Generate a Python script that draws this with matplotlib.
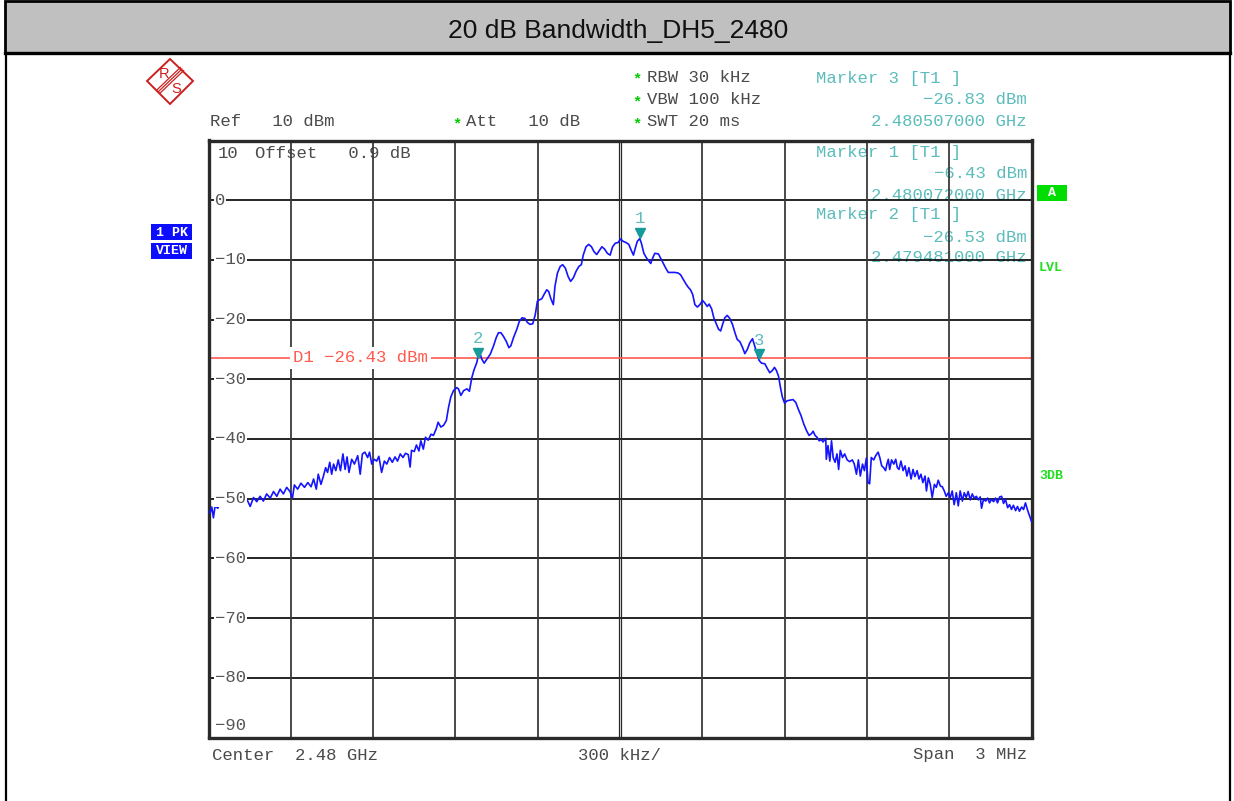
import matplotlib
matplotlib.use("Agg")
import matplotlib.pyplot as plt
from matplotlib.patches import Rectangle, Polygon
from matplotlib.transforms import offset_copy

W, H = 1234, 801
MONO = ["Liberation Mono", "DejaVu Sans Mono"]

# ---- trace: offset from centre (kHz), level (dBm)
freq_khz = [
    -1500, -1494, -1488, -1482, -1476, -1466, -1458, -1445, -1433, -1421,
    -1409, -1397, -1385, -1373, -1360, -1348, -1336, -1324, -1312, -1300,
    -1288, -1275, -1263, -1251, -1239, -1227, -1215, -1203, -1194, -1187,
    -1175, -1163, -1150, -1138, -1126, -1117, -1107, -1100, -1090, -1081,
    -1073, -1066, -1058, -1051, -1044, -1036, -1027, -1019, -1010, -1002,
    -995, -988, -978, -968, -956, -947, -939, -930, -920, -913,
    -905, -896, -887, -879, -869, -859, -850, -840, -830, -820,
    -811, -801, -791, -782, -772, -765, -760, -750, -742, -733,
    -726, -717, -709, -699, -689, -680, -670, -663,
    -653, -643, -633, -625, -617, -607, -595, -589, -580, -570,
    -558, -549, -540, -532, -522, -519, -512, -504, -495, -485,
    -473, -461, -451, -443, -434, -425, -415, -405, -398, -388,
    -376, -367, -357, -347, -337, -328, -318, -309, -301, -294,
    -285, -277, -267, -260, -252, -243, -237, -228, -218, -209,
    -199, -189, -180, -170, -160, -150, -141, -134, -124, -114,
    -104, -95, -85, -75, -66, -56, -46, -36, -27, -17,
    -7, 2, 12, 22, 32, 41, 49, 56, 63, 72,
    78, 87, 97, 107,
    112, 119, 127, 140, 148, 158, 167, 176, 188, 200,
    212, 221, 231, 240, 249, 257, 265, 273, 282, 291,
    301, 309, 318, 325, 334, 342, 352, 359, 367, 374,
    382, 391, 400, 410, 419, 427, 437, 447, 455, 464,
    473, 483, 490, 498, 507, 516, 528, 536, 546, 556,
    563, 570, 578, 585, 592, 600, 609, 619, 631, 641,
    650, 660, 670, 680, 689, 698, 704, 711, 718, 726,
    734, 740, 750,
    752, 758, 765, 771, 777, 784, 791, 797, 803, 811,
    819, 828, 837, 847, 854, 862, 869, 876, 884, 891,
    898, 904, 910, 916, 925, 932, 941, 947, 954, 961,
    968, 973, 978, 983, 990, 998, 1005, 1011, 1017, 1024,
    1032, 1039, 1046, 1053, 1061, 1068, 1075, 1083, 1090, 1097,
    1104, 1112, 1117, 1124, 1131, 1138, 1146, 1153, 1160, 1168,
    1175, 1182, 1189, 1197, 1204, 1211, 1218, 1226, 1233, 1240,
    1248, 1255, 1262, 1269, 1277, 1284, 1291, 1299, 1306, 1313,
    1318, 1325, 1333, 1340, 1347, 1354, 1362, 1369, 1376, 1384,
    1391, 1398, 1405, 1413, 1420, 1427, 1434, 1442, 1449, 1456,
    1464, 1471, 1478, 1485, 1490, 1500,
]
level_dbm = [
    -52.0, -52.4, -51.4, -53.2, -51.2, -51.6, -50.8, -51.2, -50.3, -51.0,
    -50.3, -50.8, -50.4, -51.2, -50.1, -51.3, -49.8, -50.5, -49.6, -50.4,
    -49.2, -49.9, -48.8, -49.6, -48.4, -49.2, -48.1, -48.8, -49.9, -47.7,
    -48.4, -47.4, -48.1, -47.3, -48.0, -46.7, -48.4, -45.9, -47.6, -46.2,
    -44.8, -45.6, -43.9, -45.9, -44.2, -45.3, -43.5, -45.3, -42.5, -45.1,
    -43.0, -45.6, -43.4, -44.2, -42.8, -45.9, -42.5, -42.2, -43.1, -42.2,
    -44.2, -43.4, -43.7, -42.9, -45.6, -43.7, -44.2, -43.1, -43.9, -43.0,
    -43.7, -42.5, -43.1, -42.4, -42.6, -44.7, -41.9, -42.1, -41.0, -42.0,
    -40.3, -41.7, -39.7, -40.2, -39.2, -39.4, -38.3, -37.2,
    -38.0, -37.7, -36.9, -34.7, -33.0, -31.9, -31.4, -31.6, -32.7, -31.9,
    -31.6, -32.0, -29.7, -28.4, -27.2, -26.53, -25.4, -26.6, -27.3, -26.6,
    -25.8, -24.4, -23.0, -22.2, -22.2, -22.8, -23.6, -24.7, -24.4, -23.0,
    -21.6, -20.3, -19.7, -19.8, -20.5, -20.8, -20.7, -19.2, -16.9, -16.7,
    -16.5, -15.8, -15.0, -15.3, -16.5, -17.5, -14.4, -12.2, -11.1, -10.8,
    -11.4, -12.8, -13.6, -13.0, -11.9, -11.1, -10.8, -9.2, -7.8, -7.4,
    -7.8, -8.6, -9.1, -8.4, -7.8, -8.2, -8.9, -9.2, -7.8, -7.2,
    -7.1, -6.5, -6.9, -7.1, -7.4, -8.4, -9.2, -8.0, -6.9, -6.43,
    -7.2, -8.9, -9.7, -10.3,
    -10.6, -9.7, -8.9, -9.0, -9.7, -10.6, -11.4, -12.1, -12.1, -12.1,
    -12.2, -12.5, -13.3, -14.0, -14.6, -15.0, -15.8, -17.5, -17.9, -17.5,
    -16.8, -17.2, -17.8, -17.4, -18.2, -19.7, -20.8, -21.6, -21.9, -20.8,
    -19.7, -19.3, -19.8, -20.8, -22.2, -23.3, -23.7, -24.7, -25.7, -25.0,
    -23.9, -23.2, -24.3, -25.5, -26.83, -27.3, -27.4, -28.1, -28.9, -28.5,
    -28.0, -28.5, -29.5, -31.4, -33.0, -34.0, -33.6, -33.5, -33.4, -33.9,
    -35.0, -36.1, -37.5, -38.6, -39.4, -39.1, -38.7, -39.4, -39.7, -40.3,
    -40.1, -40.5, -39.9,
    -43.4, -41.1, -43.7, -40.3, -43.1, -43.9, -42.5, -45.1, -41.9, -43.1,
    -42.5, -43.5, -43.8, -43.5, -44.2, -45.9, -43.5, -46.2, -44.2, -45.3,
    -43.2, -47.3, -47.5, -43.1, -43.5, -42.8, -42.2, -43.1, -44.5, -44.8,
    -45.3, -44.2, -43.4, -45.1, -43.5, -44.2, -43.4, -44.8, -45.1, -43.7,
    -45.3, -44.5, -46.2, -44.8, -46.7, -45.1, -46.3, -45.3, -46.7, -45.9,
    -47.3, -46.2, -48.7, -46.5, -47.6, -49.8, -47.6, -48.1, -46.9, -47.9,
    -48.0, -48.7, -49.6, -49.0, -49.8, -48.7, -51.0, -49.0, -51.2, -48.7,
    -50.4, -49.0, -49.8, -48.8, -50.2, -49.2, -49.9, -49.6, -50.2, -49.7,
    -51.6, -50.1, -50.4, -49.9, -50.7, -50.1, -50.5, -49.9, -50.7, -49.7,
    -49.6, -50.8, -50.1, -51.5, -51.0, -51.8, -51.1, -52.0, -51.3, -52.1,
    -51.4, -51.8, -50.7, -51.8, -52.5, -53.8,
]

center_ghz = 2.48
span_khz = 3000
div_khz = 300
ref_dbm = 10
bottom_dbm = -90
grid_dbm = [0, -10, -20, -30, -40, -50, -60, -70, -80]

marker_ids = [1, 2, 3]
marker_ghz = [2.480072, 2.479481, 2.480507]
marker_dbm = [-6.43, -26.53, -26.83]
d1_dbm = -26.43

title = "20 dB Bandwidth_DH5_2480"

fig = plt.figure(figsize=(W / 100, H / 100), dpi=100)

# pixel-coordinate background layer for the frame and screen annotations
bg = fig.add_axes([0, 0, 1, 1])
bg.set_xlim(0, W)
bg.set_ylim(H, 0)
bg.axis("off")

bg.add_patch(Rectangle((5, 1), 1225, 52, facecolor="#c0c0c0", edgecolor="black", lw=2))
bg.plot([5, 1230], [53, 53], color="black", lw=2.4)
bg.plot([6, 6], [53, H], color="black", lw=1.6)
bg.plot([1230, 1230], [53, H], color="black", lw=1.6)
bg.text(618, 31, title, ha="center", va="center", fontsize=19,
        family=["Liberation Sans", "DejaVu Sans"], color="#111111")

# R&S logo
red = "#cc2020"
bg.add_patch(Polygon([(147, 81), (170, 59), (193, 81), (170, 104)], closed=True,
                     fill=False, edgecolor=red, lw=1.4))
for d in (-1.6, 0, 1.6):
    bg.plot([158 + d, 182 + d], [92 + d, 69 + d], color=red, lw=0.9)
bg.text(164, 74, "R", color=red, fontsize=10.5, ha="center", va="center",
        family=["Liberation Sans"])
bg.text(176, 89, "S", color=red, fontsize=10.5, ha="center", va="center",
        family=["Liberation Sans"])

gray = "#4a4a4a"
teal = "#5cbcbc"
green = "#00cc00"
fs = 12.4


def mono(x, y, s, color=gray, ha="left", **kw):
    bg.text(x, y, s, color=color, ha=ha, va="center", fontsize=fs, family=MONO, **kw)


mono(210, 122, "Ref   10 dBm")
mono(466, 122, "Att   10 dB")
mono(647, 77, "RBW 30 kHz")
mono(647, 100, "VBW 100 kHz")
mono(647, 122, "SWT 20 ms")
for x, y in [(457, 124), (637, 79), (637, 102), (637, 124)]:
    bg.text(x, y, "*", color=green, ha="center", va="center", fontsize=11,
            family=MONO, fontweight="bold")

# marker readout blocks (order as shown on screen)
rows = [(3, 78), (1, 152), (2, 215)]
for mid, y0 in rows:
    i = marker_ids.index(mid)
    mono(816, y0, f"Marker {mid} [T1 ]", color=teal)
    mono(1027, y0 + 22, f"{marker_dbm[i]:.2f} dBm".replace("-", "\u2212"), color=teal, ha="right")
    mono(1027, y0 + 43, f"{marker_ghz[i]:.9f} GHz", color=teal, ha="right")

mono(218, 153, f"{ref_dbm}")
mono(255, 153, "Offset   0.9 dB")
mono(212, 755, f"Center  {center_ghz} GHz")
mono(578, 755, f"{div_khz} kHz/")
mono(1027, 755, f"Span  {span_khz // 1000} MHz", ha="right")

# side status boxes
for y0, s in [(224, "1 PK"), (243, "VIEW")]:
    bg.add_patch(Rectangle((151, y0), 41, 16, facecolor="#0c0cff", edgecolor="none"))
    bg.text(171.5, y0 + 8.5, s, color="white", ha="center", va="center", fontsize=9.5,
            family=MONO, fontweight="bold")
bg.add_patch(Rectangle((1037, 185), 30, 16, facecolor="#00dd00", edgecolor="none"))
bg.text(1052, 193.5, "A", color="white", ha="center", va="center", fontsize=9.5,
        family=MONO, fontweight="bold")
bg.text(1039, 268, "LVL", color="#22dd22", ha="left", va="center", fontsize=9.5,
        family=MONO, fontweight="bold")
bg.text(1039, 476, "3DB", color="#22dd22", ha="left", va="center", fontsize=9.5,
        family=MONO, fontweight="bold")

# ---- measurement grid
ax = fig.add_axes([208.5 / W, 1 - 737.5 / H, 823 / W, 597 / H])
ax.set_facecolor("none")
ax.set_xlim(-span_khz / 2, span_khz / 2)
ax.set_ylim(bottom_dbm, ref_dbm)
ax.set_xticks([])
ax.set_yticks([])
for sp in ax.spines.values():
    sp.set_linewidth(2.4)
    sp.set_color("#2a2a2a")

for v in grid_dbm:
    ax.axhline(v, color="black", lw=1.2, zorder=1)
for k in range(1, 10):
    xk = -span_khz / 2 + k * div_khz
    if xk == 0:
        ax.axvline(-3.5, color="#2a2a2a", lw=0.9, zorder=1)
        ax.axvline(3.5, color="#2a2a2a", lw=0.9, zorder=1)
    else:
        ax.axvline(xk, color="#3a3a3a", lw=1.3, zorder=1)

for v in grid_dbm:
    ax.text(-1476, v, f"{v}".replace("-", "\u2212"), color="#555555", fontsize=fs,
            family=MONO, ha="left", va="center", zorder=4,
            bbox=dict(facecolor="white", edgecolor="none", pad=0.6))
ax.text(-1476, -88.0, f"{bottom_dbm}".replace("-", "\u2212"), color="#555555",
        fontsize=fs, family=MONO, ha="left", va="center", zorder=4)

ax.axhline(d1_dbm, color="#ff5a4f", lw=1.2, zorder=2)
ax.text(-1192, d1_dbm, f"D1 {d1_dbm:.2f} dBm".replace("-", "\u2212"), color="#ff5a4f",
        fontsize=fs, family=MONO, ha="left", va="center", zorder=4,
        bbox=dict(facecolor="white", edgecolor="none", pad=2.5))

ax.plot(freq_khz, level_dbm, color="#1414ff", lw=1.2, zorder=3)

tri = offset_copy(ax.transData, fig=fig, y=6, units="dots")
for mid, f, lv in zip(marker_ids, marker_ghz, marker_dbm):
    xm = (f - center_ghz) * 1e6
    ax.plot(xm, lv, marker="v", ms=7.5, color="#169a9a", transform=tri, zorder=5,
            clip_on=False)
    ax.annotate(str(mid), (xm, lv), xytext=(0, 20), textcoords="offset pixels",
                ha="center", va="center", color=teal, fontsize=fs, family=MONO,
                zorder=5)

fig.savefig("out.png", dpi=100)
